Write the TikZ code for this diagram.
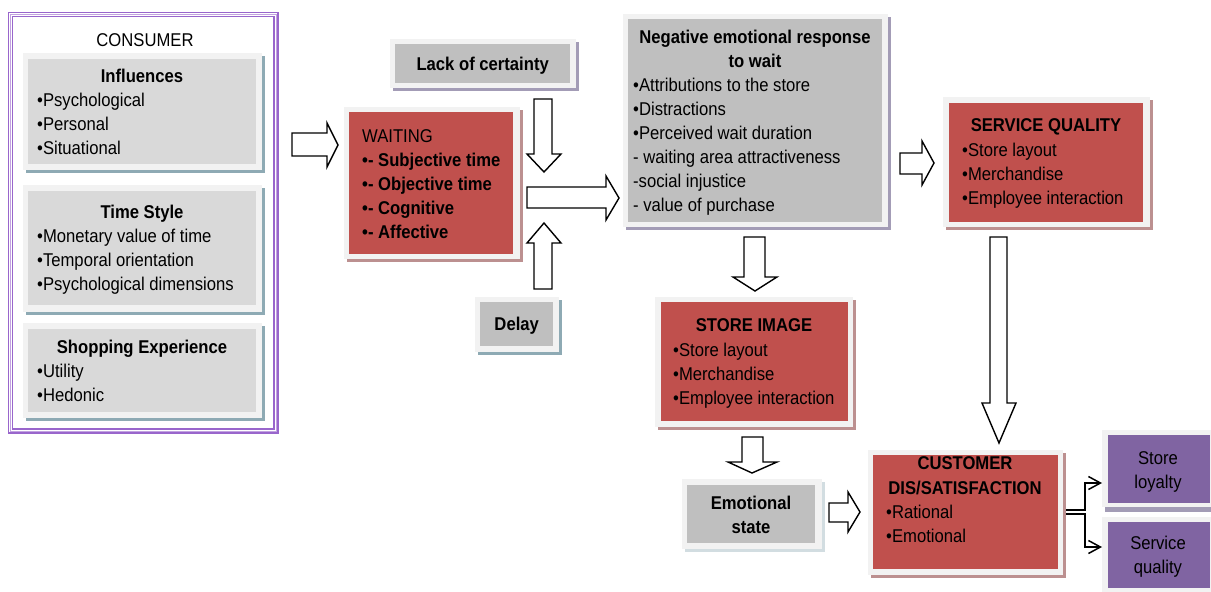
\documentclass[tikz,border=0pt]{standalone}
\usepackage{fontspec}
\setmainfont{Liberation Sans}[FakeStretch=0.9]
\usetikzlibrary{arrows.meta}
\definecolor{boxred}{HTML}{C0504D}
\definecolor{graydark}{HTML}{BFBFBF}
\definecolor{graylight}{HTML}{D9D9D9}
\definecolor{framegray}{HTML}{F2F2F2}
\definecolor{shred}{HTML}{BC9090}
\definecolor{shpurple}{HTML}{A39CB6}
\definecolor{shteal}{HTML}{8EAAB4}
\definecolor{boxpurple}{HTML}{8064A2}
\definecolor{consframe}{HTML}{9966CC}
\tikzset{
  txt/.style={inner sep=0pt, font=\fontsize{18.5}{24}\selectfont, text=black},
  btxt/.style={txt, font=\fontsize{18.5}{24}\selectfont\bfseries},
  blockarrow/.style={draw=black, fill=white, line width=1.4pt, line join=miter},
  conn/.style={draw=black, line width=1.5pt, -{Straight Barb[length=12pt,width=13pt,line width=1.5pt]}},
  boxframe/.style={fill=framegray},
}
\begin{document}
\begin{tikzpicture}[x=1pt,y=-1pt]
\useasboundingbox (0,0) rectangle (1211,592);
\fill[white] (0,0) rectangle (1211,592);

% ---------- CONSUMER frame ----------
\draw[consframe, line width=1.1pt] (8.5,12.5) rectangle (278,433);
\draw[consframe!60, line width=0.8pt] (10.5,14.5) rectangle (276,431);
\draw[consframe, line width=1.1pt] (12.5,16.5) rectangle (274,429);
\node[txt, anchor=base] (consumer) at (145,46) {CONSUMER};

% Influences
\fill[shteal] (26,56) rectangle (265,173);
\fill[boxframe] (23,53) rectangle (262,170);
\node[fill=graylight, inner sep=0pt, minimum width=228pt, minimum height=105pt, anchor=north west] (influences) at (28,59) {};
\node[btxt, anchor=base] (inft) at (142,82) {Influences};
\foreach \t [count=\i] in {Psychological, Personal, Situational}
  \node[txt, anchor=base west] (inf\i) at (37,{106+24*(\i-1)}) {•\t};

% Time Style
\fill[shteal] (26,188) rectangle (265,315);
\fill[boxframe] (23,185) rectangle (262,312);
\node[fill=graylight, inner sep=0pt, minimum width=228pt, minimum height=114pt, anchor=north west] (timestyle) at (28,191) {};
\node[btxt, anchor=base] (tst) at (142,218) {Time Style};
\foreach \t [count=\i] in {Monetary value of time, Temporal orientation, Psychological dimensions}
  \node[txt, anchor=base west] (ts\i) at (37,{242+24*(\i-1)}) {•\t};

% Shopping Experience
\fill[shteal] (26,326) rectangle (265,421);
\fill[boxframe] (23,323) rectangle (262,418);
\node[fill=graylight, inner sep=0pt, minimum width=228pt, minimum height=83pt, anchor=north west] (shopping) at (28,329) {};
\node[btxt, anchor=base] (sht) at (142,353) {Shopping Experience};
\foreach \t [count=\i] in {Utility, Hedonic}
  \node[txt, anchor=base west] (sh\i) at (37,{377+24*(\i-1)}) {•\t};

% ---------- WAITING ----------
\fill[shred] (347,110) rectangle (523,262);
\fill[boxframe] (344,107) rectangle (520,259);
\node[fill=boxred, inner sep=0pt, minimum width=164pt, minimum height=142pt, anchor=north west] (waiting) at (349,112) {};
\node[txt, anchor=base west] (waitt) at (362,142) {WAITING};
\foreach \t [count=\i] in {Subjective time, Objective time, Cognitive, Affective}
  \node[btxt, anchor=base west] (w\i) at (362,{166+24*(\i-1)}) {•- \t};

% ---------- Lack of certainty ----------
\fill[shpurple] (393,42) rectangle (579,91);
\fill[boxframe] (390,39) rectangle (576,88);
\node[fill=graydark, inner sep=0pt, minimum width=175pt, minimum height=39pt, anchor=north west] (lack) at (395,44) {};
\node[btxt, anchor=base] (lackt) at (lack.center |- 0,70) {Lack of certainty};

% ---------- Delay ----------
\fill[shteal] (478,300) rectangle (562,355);
\fill[boxframe] (475,297) rectangle (559,352);
\node[fill=graydark, inner sep=0pt, minimum width=73pt, minimum height=44pt, anchor=north west] (delay) at (480,302) {};
\node[btxt, anchor=base] (delayt) at (delay.center |- 0,330) {Delay};

% ---------- Negative emotional response ----------
\fill[shpurple] (626,17) rectangle (891,230);
\fill[boxframe] (623,14) rectangle (888,227);
\node[fill=graydark, inner sep=0pt, minimum width=254pt, minimum height=203pt, anchor=north west] (neg) at (628,19) {};
\node[btxt, anchor=base] (negt1) at (755,43) {Negative emotional response};
\node[btxt, anchor=base] (negt2) at (755,67) {to wait};
\foreach \t [count=\i] in {•Attributions to the store, •Distractions, •Perceived wait duration, - waiting area attractiveness, -social injustice, - value of purchase}
  \node[txt, anchor=base west] (n\i) at (633,{91+24*(\i-1)}) {\t};

% ---------- SERVICE QUALITY ----------
\fill[shred] (946,100) rectangle (1153,230);
\fill[boxframe] (943,97) rectangle (1150,227);
\node[fill=boxred, inner sep=0pt, minimum width=194pt, minimum height=119pt, anchor=north west] (sq) at (949,103) {};
\node[btxt, anchor=base] (sqt) at (1046,131) {SERVICE QUALITY};
\foreach \t [count=\i] in {Store layout, Merchandise, Employee interaction}
  \node[txt, anchor=base west] (sq\i) at (962,{156+24*(\i-1)}) {•\t};

% ---------- STORE IMAGE ----------
\fill[shred] (658,300) rectangle (856,430);
\fill[boxframe] (655,297) rectangle (853,427);
\node[fill=boxred, inner sep=0pt, minimum width=187pt, minimum height=119pt, anchor=north west] (si) at (661,302) {};
\node[btxt, anchor=base] (sit) at (754,331) {STORE IMAGE};
\foreach \t [count=\i] in {Store layout, Merchandise, Employee interaction}
  \node[txt, anchor=base west] (si\i) at (673,{356+24*(\i-1)}) {•\t};

% ---------- Emotional state ----------
\fill[shteal!40] (685,482) rectangle (825,552);
\fill[boxframe] (682,479) rectangle (822,549);
\node[fill=graydark, inner sep=0pt, minimum width=128pt, minimum height=58pt, anchor=north west] (emo) at (687,485) {};
\node[btxt, anchor=base] (emot1) at (751,509) {Emotional};
\node[btxt, anchor=base] (emot2) at (751,533) {state};

% ---------- CUSTOMER DIS/SATISFACTION ----------
\fill[shred] (871,453) rectangle (1066,578);
\fill[boxframe] (868,450) rectangle (1063,575);
\node[fill=boxred, inner sep=0pt, minimum width=185pt, minimum height=114pt, anchor=north west] (cust) at (873,455) {};
\node[btxt, anchor=base] (custt1) at (965,469) {CUSTOMER};
\node[btxt, anchor=base] (custt2) at (965,494) {DIS/SATISFACTION};
\foreach \t [count=\i] in {Rational, Emotional}
  \node[txt, anchor=base west] (cu\i) at (886,{518+24*(\i-1)}) {•\t};

% ---------- Purple outcome boxes ----------
\fill[shpurple] (1105,505) rectangle (1211,512);
\fill[boxframe] (1102,430) rectangle (1211,507);
\node[fill=boxpurple, inner sep=0pt, minimum width=102pt, minimum height=68pt, anchor=north west] (loyal) at (1108,435) {};
\node[txt, anchor=base] (loyt1) at (1158,464) {Store};
\node[txt, anchor=base] (loyt2) at (1158,488) {loyalty};

\fill[boxframe] (1102,517) rectangle (1211,592);
\node[fill=boxpurple, inner sep=0pt, minimum width=102pt, minimum height=66pt, anchor=north west] (servq) at (1108,522) {};
\node[txt, anchor=base] (svt1) at (1158,549) {Service};
\node[txt, anchor=base] (svt2) at (1158,573) {quality};

% ---------- Block arrows ----------
\draw[blockarrow] (292,133) -- (327,133) -- (327,123) -- (338,145) -- (327,167) -- (327,156) -- (292,156) -- cycle;
\draw[blockarrow] (534,99) -- (552,99) -- (552,154) -- (561,154) -- (544,172) -- (527,154) -- (534,154) -- cycle;
\draw[blockarrow] (534,289) -- (552,289) -- (552,243) -- (561,243) -- (544,223) -- (527,243) -- (534,243) -- cycle;
\draw[blockarrow] (527,187) -- (606,187) -- (606,176) -- (619,198) -- (606,220) -- (606,208) -- (527,208) -- cycle;
\draw[blockarrow] (900,153) -- (922,153) -- (922,141) -- (934,163) -- (922,185) -- (922,174) -- (900,174) -- cycle;
\draw[blockarrow] (744,237) -- (765,237) -- (765,277) -- (777,277) -- (755,291) -- (733,277) -- (744,277) -- cycle;
\draw[blockarrow] (990,237) -- (1007,237) -- (1007,403) -- (1016,403) -- (999,443) -- (982,403) -- (990,403) -- cycle;
\draw[blockarrow] (742,437) -- (763,437) -- (763,462) -- (777,462) -- (752,473) -- (728,462) -- (742,462) -- cycle;
\draw[blockarrow] (829,503) -- (848,503) -- (848,492) -- (860,512) -- (848,532) -- (848,522) -- (829,522) -- cycle;

% ---------- Elbow connectors ----------
\coordinate (c1) at (1066,510);
\coordinate (c2) at (1066,514);
\coordinate (e1) at (1102,483);
\coordinate (e2) at (1102,547);
\draw[conn] (c1) -- (1085,510) -- (1085,483) -- (e1);
\draw[conn] (c2) -- (1085,514) -- (1085,547) -- (e2);
\end{tikzpicture}
\end{document}
